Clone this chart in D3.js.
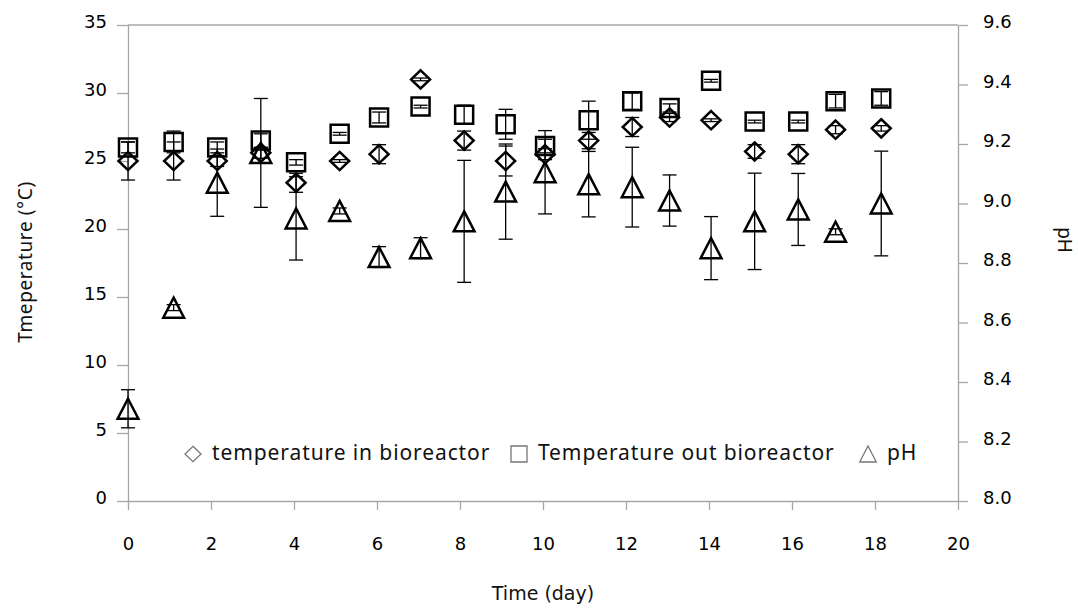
<html>
<head>
  <script src="https://d3js.org/d3.v7.min.js"></script>
  <style>
    body {
      margin: 0;
      background-color: #fff;
    }
    .axis .domain, .axis .tick line {
      stroke: #a6a6a6;
      stroke-width: 1.3px;
    }
    .axis text {
      font-family: "DejaVu Sans";
      font-size: 18px;
      fill: #000;
    }
    .title {
      font-family: "Noto Sans";
      fill: #111;
    }
    .err {
      stroke: #000;
      stroke-width: 1.3px;
      fill: none;
    }
    .mark {
      stroke: #000;
      stroke-width: 2.5px;
      fill: none;
    }
  </style>
</head>
<body>
  <svg width="1078" height="612"></svg>

  <script>
    // sampling days
    var days = [0, 1.1, 2.15, 3.2, 4.05, 5.1, 6.05, 7.05, 8.1, 9.1, 10.05, 11.1, 12.15, 13.05, 14.05, 15.1, 16.15, 17.05, 18.15];

    // temperature in bioreactor (C)
    var tempIn    = [25.0, 25.0, 25.0, 25.6, 23.4, 25.0, 25.5, 31.0, 26.5, 25.0, 25.5, 26.5, 27.5, 28.2, 28.0, 25.7, 25.5, 27.3, 27.4];
    var tempInErr = [1.4, 1.4, 0.4, 0.4, 0.7, 0.1, 0.7, 0.1, 0.7, 1.1, 0.4, 0.6, 0.7, 0.3, 0.1, 0.5, 0.7, 0.3, 0.2];

    // temperature out bioreactor (C)
    var tempOut    = [26.0, 26.4, 26.0, 26.5, 24.9, 27.0, 28.2, 29.0, 28.4, 27.7, 26.1, 28.0, 29.4, 28.9, 30.9, 27.9, 27.9, 29.4, 29.6];
    var tempOutErr = [0.4, 0.8, 0.4, 0.5, 0.2, 0.1, 0.4, 0.1, 0.7, 1.1, 0.5, 1.4, 0.6, 0.3, 0.1, 0.1, 0.1, 0.5, 0.5];

    // pH (right axis)
    var ph    = [8.31, 8.65, 9.07, 9.17, 8.95, 8.975, 8.82, 8.85, 8.94, 9.04, 9.105, 9.065, 9.055, 9.01, 8.85, 8.94, 8.98, 8.905, 9.0];
    var phErr = [0.064, 0.01, 0.113, 0.183, 0.14, 0.01, 0.035, 0.035, 0.205, 0.16, 0.14, 0.11, 0.134, 0.086, 0.106, 0.162, 0.121, 0.01, 0.176];

    var xTicks = [0, 2, 4, 6, 8, 10, 12, 14, 16, 18, 20];
    var yTicks = [0, 5, 10, 15, 20, 25, 30, 35];
    var phTicks = [8.0, 8.2, 8.4, 8.6, 8.8, 9.0, 9.2, 9.4, 9.6];

    var legendLabels = ["temperature in bioreactor", "Temperature out bioreactor", "pH"];

    var svg = d3.select("svg"),
        margin = {top: 25, right: 120, bottom: 111, left: 128},
        width = +svg.attr("width") - margin.left - margin.right,
        height = +svg.attr("height") - margin.top - margin.bottom,
        g = svg.append("g").attr("transform", "translate(" + margin.left + "," + margin.top + ")");

    var x = d3.scaleLinear().domain([0, 20]).range([0, width]);
    var y = d3.scaleLinear().domain([0, 35]).range([height, 0]);
    var y2 = d3.scaleLinear().domain([8.0, 9.6]).range([height, 0]);

    // top border
    g.append("line")
        .attr("x1", 0).attr("x2", width)
        .attr("y1", 0).attr("y2", 0)
        .attr("stroke", "#a6a6a6")
        .attr("stroke-width", 1.3);

    g.append("g")
        .attr("class", "axis")
        .attr("transform", "translate(0," + height + ")")
        .call(d3.axisBottom(x).tickValues(xTicks).tickSize(9).tickSizeOuter(0).tickPadding(27));

    g.append("g")
        .attr("class", "axis")
        .call(d3.axisLeft(y).tickValues(yTicks).tickSize(11).tickSizeOuter(0).tickPadding(10))
      .selectAll("text")
        .attr("dy", "0.15em");

    g.append("g")
        .attr("class", "axis")
        .attr("transform", "translate(" + width + ",0)")
        .call(d3.axisRight(y2).tickValues(phTicks).tickSize(10).tickSizeOuter(0).tickPadding(15)
          .tickFormat(d3.format(".1f")))
      .selectAll("text")
        .attr("dy", "0.15em");

    // axis titles
    svg.append("text")
        .attr("class", "title")
        .attr("transform", "translate(32,262) rotate(-90)")
        .attr("text-anchor", "middle")
        .style("font-size", "19px")
        .style("letter-spacing", "0.6px")
        .text("Tmeperature (\u00B0C)");

    svg.append("text")
        .attr("class", "title")
        .attr("transform", "translate(1058,240) rotate(90)")
        .attr("text-anchor", "middle")
        .style("font-size", "19px")
        .text("pH");

    svg.append("text")
        .attr("class", "title")
        .attr("x", margin.left + x(10))
        .attr("y", 600)
        .attr("text-anchor", "middle")
        .style("font-family", "DejaVu Sans")
        .style("font-size", "19px")
        .text("Time (day)");

    // marker shapes, centred on the point
    function diamond(s) {
      var w = s * 0.5, h = s * 0.48;
      return "M0," + (-h) + "L" + w + ",0L0," + h + "L" + (-w) + ",0Z";
    }
    function square(s) {
      var h = s / 2;
      return "M" + (-h) + "," + (-h) + "H" + h + "V" + h + "H" + (-h) + "Z";
    }
    function triangle(s) {
      var w = s * 0.52, h = s * 0.5;
      return "M0," + (-h) + "L" + w + "," + h + "H" + (-w) + "Z";
    }

    var series = [
      {vals: tempIn, errs: tempInErr, scale: y, shape: diamond, size: 19},
      {vals: tempOut, errs: tempOutErr, scale: y, shape: square, size: 18},
      {vals: ph, errs: phErr, scale: y2, shape: triangle, size: 20}
    ];

    series.forEach(function(s) {
      var data = days.map(function(d, i) { return {day: d, v: s.vals[i], e: s.errs[i]}; });
      var sg = g.append("g");

      var eb = sg.selectAll(".eb").data(data).enter().append("g").attr("class", "err");
      eb.append("line")
          .attr("x1", function(d) { return x(d.day); })
          .attr("x2", function(d) { return x(d.day); })
          .attr("y1", function(d) { return s.scale(d.v - d.e); })
          .attr("y2", function(d) { return s.scale(d.v + d.e); });
      eb.append("line")
          .attr("x1", function(d) { return x(d.day) - 7; })
          .attr("x2", function(d) { return x(d.day) + 7; })
          .attr("y1", function(d) { return s.scale(d.v - d.e); })
          .attr("y2", function(d) { return s.scale(d.v - d.e); });
      eb.append("line")
          .attr("x1", function(d) { return x(d.day) - 7; })
          .attr("x2", function(d) { return x(d.day) + 7; })
          .attr("y1", function(d) { return s.scale(d.v + d.e); })
          .attr("y2", function(d) { return s.scale(d.v + d.e); });

      sg.selectAll(".mark").data(data).enter().append("path")
          .attr("class", "mark")
          .attr("transform", function(d) { return "translate(" + x(d.day) + "," + s.scale(d.v) + ")"; })
          .attr("d", s.shape(s.size));
    });

    // legend
    var legendX = [193, 519, 868];
    var legendShapes = [diamond, square, triangle];
    var legend = svg.append("g");
    legendLabels.forEach(function(lab, i) {
      legend.append("path")
          .attr("transform", "translate(" + legendX[i] + ",454)")
          .attr("d", legendShapes[i](16))
          .attr("fill", "none")
          .attr("stroke", "#777")
          .attr("stroke-width", 1.3);
      legend.append("text")
          .attr("class", "title")
          .attr("x", legendX[i] + 19)
          .attr("y", 460)
          .style("font-size", "21px")
          .style("letter-spacing", "0.9px")
          .text(lab);
    });
  </script>
</body>
</html>
